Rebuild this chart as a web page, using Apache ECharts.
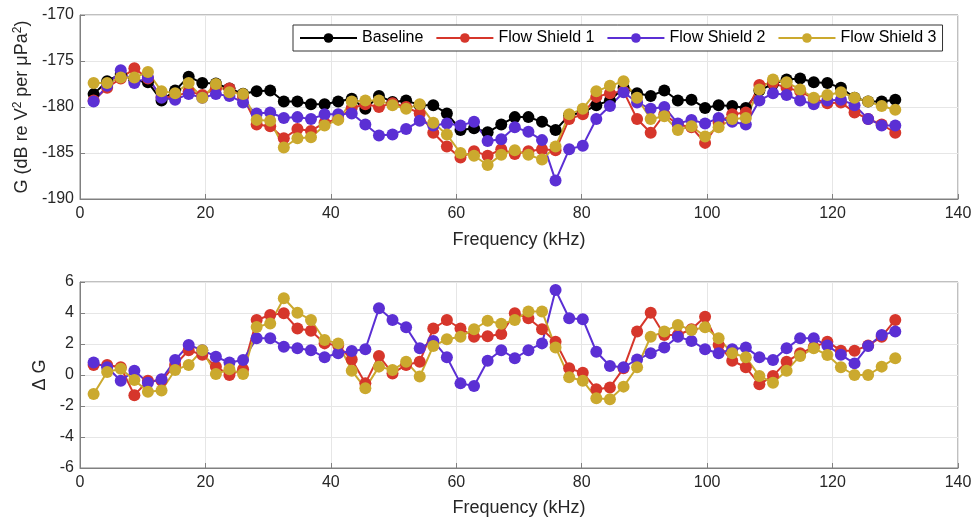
<!DOCTYPE html>
<html><head><meta charset="utf-8">
<script src="https://cdn.jsdelivr.net/npm/echarts@6/dist/echarts.min.js"></script>
<style>html,body{margin:0;padding:0;background:#fff}#c{width:977px;height:523px}</style>
</head><body><div id="c"></div>
<script>
const freq = [2.17,4.33,6.5,8.67,10.83,13,15.17,17.33,19.5,21.67,23.83,26,28.17,30.33,32.5,34.67,36.83,39,41.17,43.33,45.5,47.67,49.83,52,54.17,56.33,58.5,60.67,62.83,65,67.17,69.33,71.5,73.67,75.83,78,80.17,82.33,84.5,86.67,88.83,91,93.17,95.33,97.5,99.67,101.83,104,106.17,108.33,110.5,112.67,114.83,117,119.17,121.33,123.5,125.67,127.83,130];
const baseline = [-178.6,-177.2,-176.4,-177.1,-177.3,-179.3,-178.2,-176.7,-177.4,-177.45,-178.0,-178.55,-178.3,-178.2,-179.4,-179.4,-179.7,-179.7,-179.4,-179.1,-180.2,-178.8,-179.45,-179.3,-179.8,-179.8,-180.7,-182.5,-182.3,-182.75,-181.9,-181.1,-181.1,-181.6,-182.5,-180.9,-180.6,-179.8,-179.3,-177.9,-178.5,-178.8,-178.2,-179.3,-179.2,-180.1,-179.8,-179.9,-180.1,-178.2,-177.5,-177.0,-176.9,-177.3,-177.4,-177.9,-179.0,-179.4,-179.4,-179.2];
const shield1 = [-179.3,-177.9,-176.9,-175.8,-176.9,-178.9,-178.9,-178.3,-178.7,-178.0,-178.0,-178.9,-181.9,-182.1,-183.4,-182.4,-182.6,-181.7,-181.3,-180.1,-179.7,-180.0,-179.6,-180.0,-180.7,-182.8,-184.3,-185.5,-184.8,-185.3,-184.6,-185.1,-184.8,-184.6,-184.7,-181.3,-180.8,-178.9,-178.5,-178.3,-181.3,-182.8,-180.8,-181.9,-182.2,-183.9,-181.7,-180.8,-180.6,-177.6,-177.4,-177.9,-178.3,-179.1,-179.6,-179.5,-180.6,-181.3,-181.9,-182.8];
const shield2 = [-179.4,-177.7,-176.0,-177.4,-176.8,-179.0,-179.2,-178.6,-179.0,-178.6,-178.8,-179.5,-180.7,-180.6,-181.2,-181.1,-181.3,-180.8,-180.8,-180.7,-181.9,-183.1,-183.0,-182.4,-181.5,-182.0,-181.8,-182.0,-181.6,-183.7,-183.5,-182.2,-182.7,-183.6,-188.0,-184.6,-184.2,-181.3,-179.9,-178.4,-179.5,-180.2,-180.0,-181.8,-181.4,-181.8,-181.2,-181.6,-181.9,-179.3,-178.5,-178.7,-179.3,-179.7,-179.3,-179.2,-179.8,-181.3,-182.0,-182.0];
const shield3 = [-177.4,-177.4,-176.8,-176.8,-176.2,-178.3,-178.5,-177.4,-179.0,-177.5,-178.4,-178.6,-181.4,-181.5,-184.4,-183.4,-183.3,-182.0,-181.4,-179.4,-179.3,-179.3,-179.8,-180.2,-179.7,-181.7,-183.0,-185.0,-185.3,-186.3,-185.2,-184.7,-185.2,-185.7,-184.3,-180.8,-180.2,-178.3,-177.7,-177.2,-179.0,-181.3,-181.0,-182.5,-182.1,-183.2,-182.2,-181.3,-181.2,-178.1,-177.0,-177.3,-178.1,-179.0,-178.7,-178.4,-179.0,-179.4,-179.9,-180.3];
const dG1 = [0.65,0.65,0.5,-1.3,-0.37,-0.37,0.65,1.6,1.3,0.54,0,0.37,3.55,3.87,3.98,3.0,2.86,2.04,1.9,1.0,-0.54,1.23,0.1,0.65,0.86,3.0,3.55,3.0,2.47,2.5,2.65,3.98,3.66,2.95,2.15,0.43,0.15,-0.92,-0.8,0.43,2.8,4.02,2.58,2.58,2.95,3.76,1.94,0.92,0.5,-0.6,-0.06,0.86,1.4,1.8,2.15,1.57,1.57,1.9,2.47,3.55];
const dG2 = [0.8,0.5,-0.37,0.28,-0.5,-0.28,0.97,1.94,1.6,1.18,0.8,0.97,2.37,2.37,1.83,1.72,1.6,1.14,1.4,1.55,1.66,4.3,3.55,3.08,1.72,2.2,1.14,-0.54,-0.71,0.92,1.6,1.08,1.6,2.04,5.48,3.66,3.6,1.5,0.58,0.5,1.0,1.4,1.78,2.47,2.2,1.66,1.4,1.66,1.78,1.14,0.97,1.72,2.37,2.37,1.9,1.3,0.75,1.87,2.58,2.8];
const dG3 = [-1.23,0.2,0.4,-0.32,-1.08,-1.0,0.32,0.65,1.6,0.06,0.37,0.06,3.1,3.33,4.95,4.02,3.55,2.26,2.04,0.28,-0.86,0.54,0.32,0.86,-0.1,1.87,2.3,2.47,2.95,3.5,3.3,3.55,4.1,4.1,1.78,-0.15,-0.37,-1.5,-1.57,-0.75,0.5,2.47,2.8,3.23,2.9,3.08,2.37,1.4,1.14,-0.06,-0.5,0.28,1.23,1.72,1.29,0.5,0,0,0.54,1.08];
const names = ['Baseline','Flow Shield 1','Flow Shield 2','Flow Shield 3'];
const colors = ['#000000','#d6362b','#5b2fd4','#cba92e'];
const xTicks = {min:0, max:140, interval:20};

const pairs = ys => freq.map((f,i)=>[f, ys[i]]);
const FONT = 'Liberation Sans, Arial, sans-serif';
const TXT = '#262626';
function axisCommon(extra){
  return Object.assign({
    axisLine:{show:true, onZero:false, lineStyle:{color:'#808080', width:1}},
    axisTick:{show:true, inside:true, length:5, lineStyle:{color:'#808080'}},
    axisLabel:{color:TXT, fontSize:16, fontFamily:FONT, margin:7},
    splitLine:{show:true, lineStyle:{color:'#e6e6e6', width:1}},
    nameTextStyle:{color:TXT, fontSize:18, fontFamily:FONT}
  }, extra);
}
function mkSeries(name, data, color, xi, yi){
  return {name:name, type:'line', xAxisIndex:xi, yAxisIndex:yi, data:pairs(data),
    symbol:'circle', symbolSize:12, showSymbol:true,
    lineStyle:{color:color, width:2}, itemStyle:{color:color},
    emphasis:{disabled:true}, animation:false};
}
const chart = echarts.init(document.getElementById('c'), null, {renderer:'canvas'});
chart.setOption({
  animation:false,
  backgroundColor:'#fff',
  grid:[
    {left:80, top:15, width:878, height:184, show:true, borderColor:'#808080', borderWidth:1},
    {left:80, top:282, width:878, height:186, show:true, borderColor:'#808080', borderWidth:1}
  ],
  legend:{
    data:names, top:25, left:293, orient:'horizontal',
    backgroundColor:'#fff', borderColor:'#333', borderWidth:1, borderRadius:0,
    padding:[5,6,5,6], itemGap:12, itemWidth:57, itemHeight:12,
    textStyle:{color:'#000', fontSize:16, fontFamily:FONT}
  },
  xAxis:[
    axisCommon(Object.assign({gridIndex:0, type:'value', name:'Frequency (kHz)', nameLocation:'middle', nameGap:32}, xTicks)),
    axisCommon(Object.assign({gridIndex:1, type:'value', name:'Frequency (kHz)', nameLocation:'middle', nameGap:31}, xTicks))
  ],
  yAxis:[
    axisCommon({gridIndex:0, type:'value', min:-190, max:-170, interval:5, nameLocation:'middle', nameGap:44,
      name:'G (dB re V{s|2} per μPa{s|2})',
      axisLabel:{color:TXT, fontSize:16, fontFamily:FONT, margin:6},
      nameTextStyle:{color:TXT, fontSize:18, fontFamily:FONT, rich:{s:{fontSize:12, verticalAlign:'bottom', padding:[0,0,9,0], color:TXT, fontFamily:FONT}}}}),
    axisCommon({gridIndex:1, type:'value', min:-6, max:6, interval:2, nameLocation:'middle', nameGap:27,
      name:'Δ G', axisLabel:{color:TXT, fontSize:16, fontFamily:FONT, margin:6}})
  ],
  series:[
    mkSeries(names[0], baseline, colors[0], 0, 0),
    mkSeries(names[1], shield1, colors[1], 0, 0),
    mkSeries(names[2], shield2, colors[2], 0, 0),
    mkSeries(names[3], shield3, colors[3], 0, 0),
    Object.assign(mkSeries(names[1], dG1, colors[1], 1, 1), {name:'d1'}),
    Object.assign(mkSeries(names[2], dG2, colors[2], 1, 1), {name:'d2'}),
    Object.assign(mkSeries(names[3], dG3, colors[3], 1, 1), {name:'d3'})
  ]
});
</script></body></html>
